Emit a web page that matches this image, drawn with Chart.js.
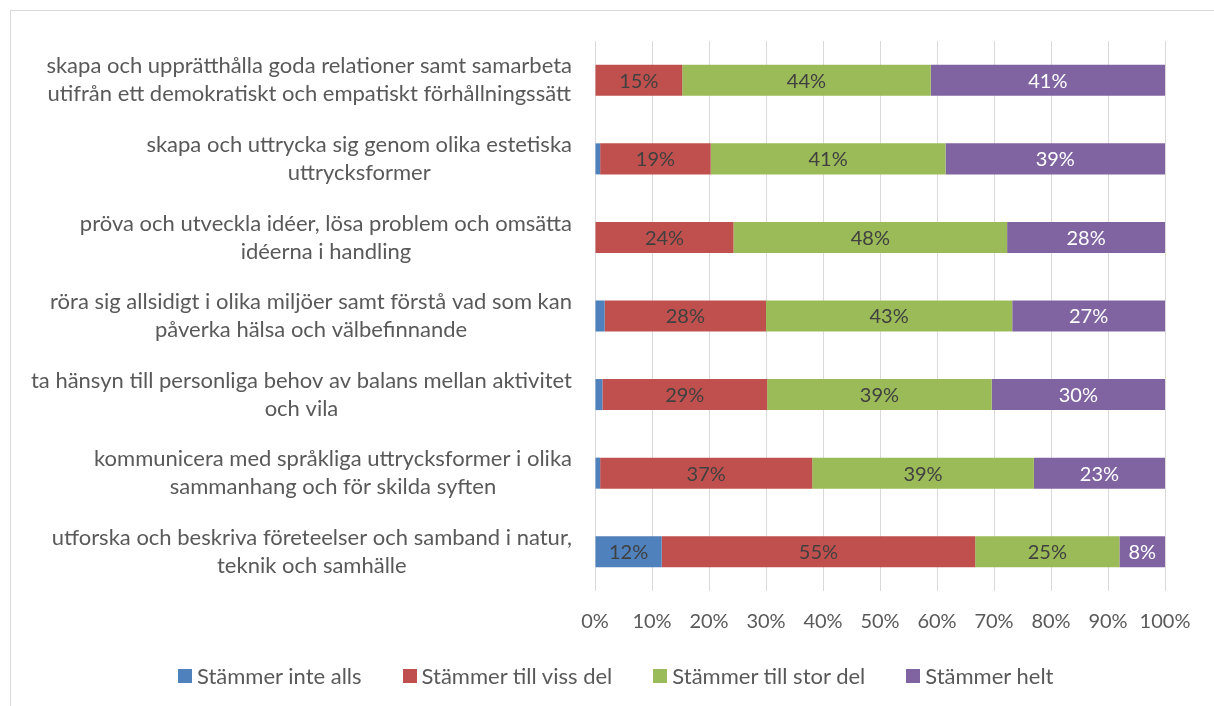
<!DOCTYPE html>
<html>
<head>
<meta charset="utf-8">
<script src="https://cdn.jsdelivr.net/npm/chart.js@4"></script>
<style>
  body { margin: 0; background: #fff; }
  #wrap { position: relative; width: 1214px; height: 706px; overflow: hidden; }
  #frame { position: absolute; left: 10px; top: 10px; width: 1300px; height: 800px; border: 1px solid #d9d9d9; box-sizing: border-box; }
  canvas { position: absolute; left: 0; top: 0; }
  #legend { position: absolute; left: 178px; top: 662px; display: flex; align-items: center;
            font: 22px Lato, "Liberation Sans", sans-serif; color: #595959; white-space: nowrap; }
  #legend .item { display: flex; align-items: center; margin-right: 41px; }
  #legend .box { width: 14px; height: 14px; margin-right: 5px; }
</style>
</head>
<body>
<div id="wrap">
  <div id="frame"></div>
  <canvas id="chart" width="1214" height="706"></canvas>
  <div id="legend"></div>
</div>
<script>
const categories = [
  ['skapa och upprätthålla goda relationer samt samarbeta', 'utifrån ett demokratiskt och empatiskt förhållningssätt'],
  ['skapa och uttrycka sig genom olika estetiska', 'uttrycksformer'],
  ['pröva och utveckla idéer, lösa problem och omsätta', 'idéerna i handling'],
  ['röra sig allsidigt i olika miljöer samt förstå vad som kan', 'påverka hälsa och välbefinnande'],
  ['ta hänsyn till personliga behov av balans mellan aktivitet', 'och vila'],
  ['kommunicera med språkliga uttrycksformer i olika', 'sammanhang och för skilda syften'],
  ['utforska och beskriva företeelser och samband i natur,', 'teknik och samhälle']
];
const seriesNames = ['Stämmer inte alls', 'Stämmer till viss del', 'Stämmer till stor del', 'Stämmer helt'];
const inteAlls = [0, 0.9, 0, 1.7, 1.3, 0.9, 11.7];
const vissDel = [15.3, 19.4, 24.3, 28.3, 28.9, 37.2, 55.0];
const storDel = [43.6, 41.2, 48.0, 43.2, 39.4, 38.9, 25.3];
const helt = [41.1, 38.5, 27.7, 26.8, 30.4, 23.0, 8.0];
const xTicks = [0, 10, 20, 30, 40, 50, 60, 70, 80, 90, 100];

const colors = ['#4f81bd', '#c0504d', '#9bbb59', '#8064a2'];
const labelColors = ['#404040', '#404040', '#404040', '#ffffff'];
const FONT = 'Lato, "Liberation Sans", sans-serif';

// % labels inside each bar segment
const barLabels = {
  id: 'barLabels',
  afterDatasetsDraw(chart) {
    const ctx = chart.ctx;
    ctx.save();
    ctx.font = '20px ' + FONT;
    ctx.textAlign = 'center';
    ctx.textBaseline = 'middle';
    chart.data.datasets.forEach((ds, di) => {
      const meta = chart.getDatasetMeta(di);
      meta.data.forEach((bar, i) => {
        const v = ds.data[i];
        if (v < 3) return;
        const p = bar.getCenterPoint();
        ctx.fillStyle = labelColors[di];
        ctx.fillText(Math.round(v) + '%', p.x, p.y + 1);
      });
    });
    ctx.restore();
  }
};

// category labels: block right aligned, lines centered inside the block
const catLabels = {
  id: 'catLabels',
  afterDraw(chart) {
    const ctx = chart.ctx;
    const y = chart.scales.y;
    const right = chart.chartArea.left - 23;
    ctx.save();
    ctx.font = '22px ' + FONT;
    ctx.fillStyle = '#595959';
    ctx.textAlign = 'center';
    ctx.textBaseline = 'middle';
    categories.forEach((lines, i) => {
      const cy = y.getPixelForTick(i);
      const w = Math.max(...lines.map(l => ctx.measureText(l).width));
      const cx = right - w / 2;
      const lh = 28;
      lines.forEach((l, j) => {
        ctx.fillText(l, cx, cy + (j - (lines.length - 1) / 2) * lh);
      });
    });
    ctx.restore();
  }
};

const data = {
  labels: categories.map(c => c.join(' ')),
  datasets: [inteAlls, vissDel, storDel, helt].map((d, i) => ({
    label: seriesNames[i],
    data: d,
    backgroundColor: colors[i],
    borderWidth: 0,
    categoryPercentage: 1,
    barPercentage: 0.395
  }))
};

const config = {
  type: 'bar',
  data: data,
  options: {
    indexAxis: 'y',
    responsive: false,
    animation: false,
    layout: { padding: { left: 61, right: 49, top: 41, bottom: 53 } },
    scales: {
      x: {
        stacked: true,
        min: 0,
        max: 100,
        afterBuildTicks: (scale) => { scale.ticks = xTicks.map(v => ({ value: v })); },
        grid: { color: '#d9d9d9', lineWidth: 1, drawTicks: false },
        border: { display: false },
        ticks: {
          padding: 19,
          color: '#595959',
          font: { family: FONT, size: 20 },
          callback: (v) => v + '%'
        }
      },
      y: {
        stacked: true,
        afterFit: (scale) => { scale.width = 534; },
        grid: { display: false, drawTicks: false },
        border: { display: false },
        ticks: { display: false }
      }
    },
    plugins: {
      tooltip: { enabled: false },
      legend: { display: false }
    }
  },
  plugins: [barLabels, catLabels]
};

const myChart = new Chart(document.getElementById('chart'), config);

// html legend built from the datasets
const legendEl = document.getElementById('legend');
myChart.data.datasets.forEach((ds) => {
  const item = document.createElement('div');
  item.className = 'item';
  const box = document.createElement('span');
  box.className = 'box';
  box.style.background = ds.backgroundColor;
  const txt = document.createElement('span');
  txt.textContent = ds.label;
  item.appendChild(box);
  item.appendChild(txt);
  legendEl.appendChild(item);
});
</script>
</body>
</html>
